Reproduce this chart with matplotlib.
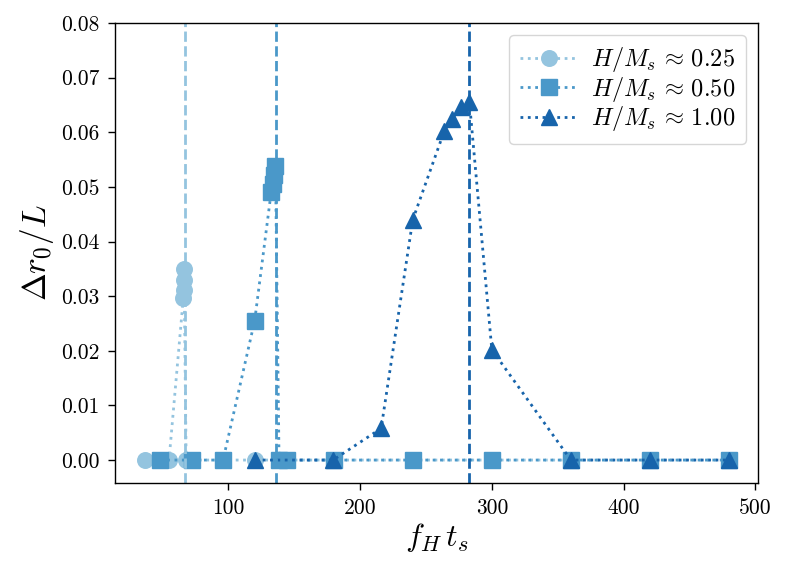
import matplotlib
matplotlib.use("Agg")
import matplotlib.pyplot as plt

plt.rcParams['font.family'] = 'serif'
plt.rcParams['font.serif'] = ['cmr10', 'DejaVu Serif']
plt.rcParams['mathtext.fontset'] = 'cm'
plt.rcParams['axes.formatter.use_mathtext'] = True

# H/Ms ~ 0.25
x_025 = [37, 55, 65.8, 66.0, 66.2, 66.4, 68, 72, 96, 120, 144, 180, 240, 300, 360, 420, 480]
y_025 = [0.0, 0.0, 0.0296, 0.0312, 0.0330, 0.0350, 0.0, 0.0, 0.0, 0.0, 0.0, 0.0, 0.0, 0.0, 0.0, 0.0, 0.0]
# H/Ms ~ 0.50
x_050 = [48, 72.5, 96, 120, 132.5, 133.6, 134.7, 135.8, 138.5, 144.5, 180, 240, 300, 360, 420, 480]
y_050 = [0.0, 0.0, 0.0, 0.0255, 0.0490, 0.0505, 0.0521, 0.0538, 0.0, 0.0, 0.0, 0.0, 0.0, 0.0, 0.0, 0.0]
# H/Ms ~ 1.00
x_100 = [120.5, 179.5, 216, 240, 264, 270, 276.7, 283, 300, 360, 420, 480]
y_100 = [0.0, 0.0, 0.0058, 0.0440, 0.0603, 0.0625, 0.0647, 0.0655, 0.0202, 0.0, 0.0, 0.0]

resonances = [67.0, 136.4, 283.0]
labels = [r'$H/M_s \,\approx\, 0.25$', r'$H/M_s \,\approx\, 0.50$', r'$H/M_s \,\approx\, 1.00$']
colors = ['#94c4df', '#4a98c9', '#1764ab']
markers = ['o', 's', '^']

xticks = [100, 200, 300, 400, 500]
yticks = [0.00, 0.01, 0.02, 0.03, 0.04, 0.05, 0.06, 0.07, 0.08]

fig = plt.figure(figsize=(7.9, 5.73), dpi=100)
ax = fig.add_axes([115/790, 90/573, (758-115)/790, (483-23)/573])

series = [(x_025, y_025), (x_050, y_050), (x_100, y_100)]
for (xs, ys), c, m, lab in zip(series, colors, markers, labels):
    ax.plot(xs, ys, linestyle=':', linewidth=2, marker=m, markersize=11.2,
            color=c, label=lab)
for r, c in zip(resonances, colors):
    ax.axvline(r, color=c, linestyle='--', linewidth=2)

ax.set_xticks(xticks)
ax.set_xticklabels([f'{t:d}' for t in xticks])
ax.set_yticks(yticks)
ax.set_yticklabels([f'{t:.2f}' for t in yticks])
ax.set_ylim(-0.0042, 0.08)
ax.set_xlim(14, 502)
ax.tick_params(labelsize=15.5, length=5, width=1, pad=6)
for s in ax.spines.values():
    s.set_linewidth(1)

ax.set_xlabel(r'$f_H\,t_s$', fontsize=23, labelpad=2)
ax.set_ylabel(r'$\Delta r_0/L$', fontsize=24, labelpad=4)
ax.legend(loc='upper right', fontsize=17.5, handlelength=2.4, handletextpad=0.55,
          labelspacing=0.02, borderpad=0.42, borderaxespad=0.5)

fig.savefig('out.png', dpi=100)
